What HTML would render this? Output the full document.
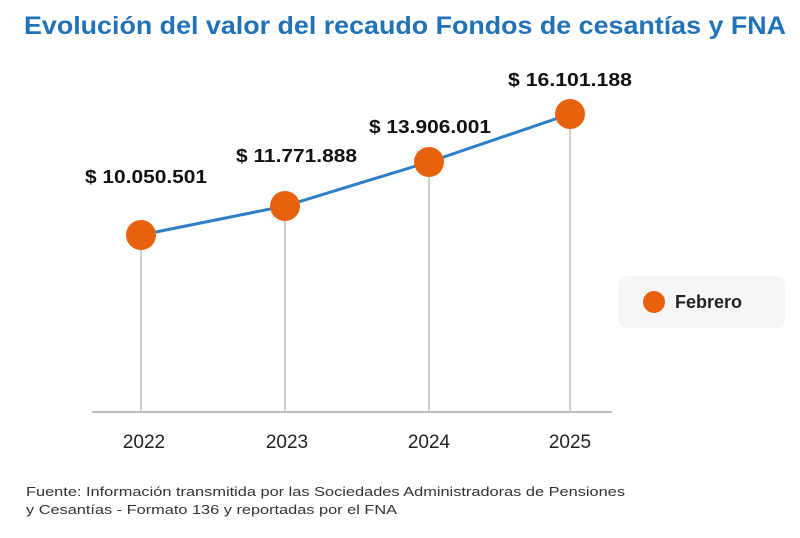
<!DOCTYPE html>
<html><head><meta charset="utf-8"><style>
body{margin:0;background:#fff;width:800px;height:533px;overflow:hidden;font-family:"Liberation Sans",sans-serif}
</style></head><body>
<svg width="800" height="533" xmlns="http://www.w3.org/2000/svg">
<text x="24" y="34" font-size="25" font-weight="bold" fill="#2272B8" textLength="762" lengthAdjust="spacingAndGlyphs">Evolución del valor del recaudo Fondos de cesantías y FNA</text>
<g stroke="#d0d0d0" stroke-width="2">
<line x1="141" y1="235" x2="141" y2="412"/>
<line x1="285" y1="206" x2="285" y2="412"/>
<line x1="429" y1="162" x2="429" y2="412"/>
<line x1="570" y1="114" x2="570" y2="412"/>
</g>
<line x1="92" y1="412" x2="612" y2="412" stroke="#bdbdbd" stroke-width="2"/>
<polyline points="141,235 285,206 429,162 570,114" fill="none" stroke="#2F7FC8" stroke-width="3"/>
<g fill="#E8620E">
<circle cx="141" cy="235" r="15"/><circle cx="285" cy="206" r="15"/>
<circle cx="429" cy="162" r="15"/><circle cx="570" cy="114" r="15"/>
</g>
<g font-size="18" font-weight="bold" fill="#111" lengthAdjust="spacingAndGlyphs">
<text x="85" y="183" textLength="122" lengthAdjust="spacingAndGlyphs">$ 10.050.501</text>
<text x="236" y="162" textLength="121" lengthAdjust="spacingAndGlyphs">$ 11.771.888</text>
<text x="369" y="133" textLength="122" lengthAdjust="spacingAndGlyphs">$ 13.906.001</text>
<text x="508" y="86" textLength="124" lengthAdjust="spacingAndGlyphs">$ 16.101.188</text>
</g>
<g font-size="19" fill="#222" text-anchor="middle">
<text x="144" y="448">2022</text><text x="287" y="448">2023</text>
<text x="429" y="448">2024</text><text x="570" y="448">2025</text>
</g>
<rect x="618" y="276" width="167" height="52" rx="10" fill="#f6f6f6"/>
<circle cx="654" cy="302" r="11" fill="#E8620E"/>
<text x="675" y="308" font-size="18" font-weight="bold" fill="#222">Febrero</text>
<g font-size="13" fill="#333">
<text x="26" y="496" textLength="599" lengthAdjust="spacingAndGlyphs">Fuente: Información transmitida por las Sociedades Administradoras de Pensiones</text>
<text x="26" y="514" textLength="371" lengthAdjust="spacingAndGlyphs">y Cesantías - Formato 136 y reportadas por el FNA</text>
</g>
</svg>
</body></html>
